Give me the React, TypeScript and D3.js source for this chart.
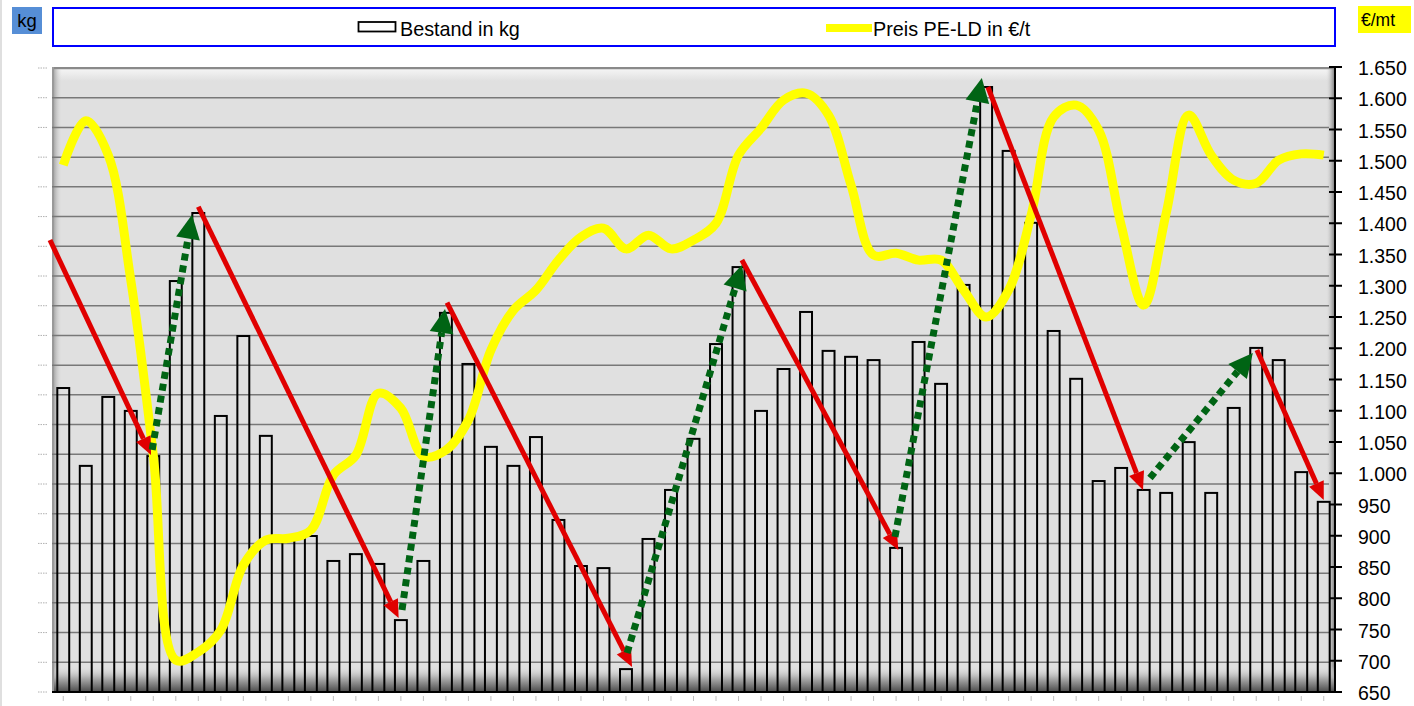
import React from 'react';
import * as d3 from 'd3';

// 57 Monate, Beschriftung im Original nicht lesbar
const categories = d3.range(57);

// Bestand (linke Achse, Beschriftung ausgeblendet)
const bestandKg = [
  1023, 761, 993, 946, 794, 1383, 1612, 929, 1198, 862,
  508, 525, 441, 464, 431, 242, 441, 1276, 1104, 825,
  761, 858, 579, 424, 417, 77, 515, 680, 852, 1171,
  1430, 946, 1087, 1279, 1148, 1128, 1117, 485, 1178, 1037,
  1370, 2036, 1821, 1579, 1215, 1054, 710, 754, 680, 670,
  841, 670, 956, 1158, 1117, 740, 640,
];

// Preis PE-LD in €/t (rechte Achse)
const preisPeLd = [
  1493, 1564, 1509, 1309, 1029, 701, 714, 749, 853, 893,
  896, 909, 997, 1029, 1128, 1104, 1027, 1037, 1085, 1197,
  1261, 1293, 1341, 1378, 1392, 1359, 1381, 1359, 1373, 1400,
  1509, 1552, 1597, 1608, 1573, 1461, 1349, 1352, 1341, 1341,
  1293, 1250, 1293, 1413, 1570, 1589, 1549, 1397, 1269, 1416,
  1573, 1509, 1469, 1464, 1501, 1511, 1509,
];

// Trendpfeile: [Kategorie-Index, kg] von -> bis
const downArrows = [
  { from: [-0.59, 1521], to: [3.9, 798] },
  { from: [6.0, 1633], to: [14.9, 249] },
  { from: [17.05, 1310], to: [25.27, 84] },
  { from: [30.15, 1454], to: [37.1, 478] },
  { from: [41.08, 2036], to: [47.97, 680] },
  { from: [53.03, 1151], to: [56.0, 646] },
];
const upArrows = [
  { from: [3.95, 815], to: [5.72, 1606] },
  { from: [15.05, 276], to: [16.96, 1289] },
  { from: [25.05, 131], to: [30.15, 1437] },
  { from: [36.95, 522], to: [40.81, 2066] },
  { from: [48.28, 720], to: [52.85, 1141] },
];

const rightTicks = d3.range(650, 1651, 50);

const W = 1414;
const H = 706;
const left = 52;
const right = 1335;
const top = 67;
const bottom = 692;
const FONT = 'Liberation Sans, Arial, sans-serif';

const de = d3.formatLocale({ decimal: ',', thousands: '.', grouping: [3], currency: ['', '€'] });
const fmt = de.format(',d');

function Arrow({ x1, y1, x2, y2, color, width, headLen, headW, dash }) {
  const dx = x2 - x1;
  const dy = y2 - y1;
  const len = Math.hypot(dx, dy);
  const ux = dx / len;
  const uy = dy / len;
  const bx = x2 - ux * headLen;
  const by = y2 - uy * headLen;
  const px = -uy * headW;
  const py = ux * headW;
  return (
    <g>
      <line x1={x1} y1={y1} x2={bx} y2={by} stroke={color} strokeWidth={width}
        strokeDasharray={dash} />
      <path d={`M${x2},${y2}L${bx + px},${by + py}L${bx - px},${by - py}Z`} fill={color} />
    </g>
  );
}

export default function App() {
  const x = d3.scaleBand<number>()
    .domain(categories)
    .range([left, right])
    .paddingInner(0.47)
    .paddingOuter(0.235);
  const cx = (i: number) => (x(i) as number) + x.bandwidth() / 2;
  const xIdx = d3.scaleLinear().domain([0, categories.length - 1]).range([cx(0), cx(categories.length - 1)]);
  const yKg = d3.scaleLinear().domain([0, 2100]).range([bottom, top + 1]);
  const yPreis = d3.scaleLinear().domain([650, 1650]).range([bottom, top]);

  const leftTicks = yKg.ticks(21);

  const line = d3.line<number>()
    .x((_, i) => cx(i))
    .y((d) => yPreis(d))
    .curve(d3.curveCatmullRom.alpha(0.5));

  return (
    <svg width={W} height={H} style={{ position: 'absolute', left: 0, top: 0, background: '#fff' }}
      fontFamily={FONT}>
      <defs>
        <linearGradient id="gTop" x1="0" y1="0" x2="0" y2="1">
          <stop offset="0" stopColor="#9a9a9a" />
          <stop offset="0.25" stopColor="#f2f2f2" />
          <stop offset="1" stopColor="#e0e0e0" />
        </linearGradient>
        <linearGradient id="gLeft" x1="0" y1="0" x2="1" y2="0">
          <stop offset="0" stopColor="#8c8c8c" />
          <stop offset="1" stopColor="#e0e0e0" stopOpacity="0" />
        </linearGradient>
        <linearGradient id="gRight" x1="0" y1="0" x2="1" y2="0">
          <stop offset="0" stopColor="#e0e0e0" stopOpacity="0" />
          <stop offset="1" stopColor="#707070" />
        </linearGradient>
        <linearGradient id="gBottom" x1="0" y1="0" x2="0" y2="1">
          <stop offset="0" stopColor="#e0e0e0" stopOpacity="0" />
          <stop offset="0.45" stopColor="#b0b0b0" />
          <stop offset="1" stopColor="#4a4a4a" />
        </linearGradient>
      </defs>

      <line x1={1} y1={0} x2={1} y2={H} stroke="#d4d4d4" strokeWidth={1.5} />

      {/* Einheiten */}
      <rect x={12} y={7} width={30} height={27} fill="#568ed6" />
      <text x={27} y={27} textAnchor="middle" fontSize={18.5} fill="#000">kg</text>
      <rect x={1358} y={6} width={53} height={27} fill="#ffff00" />
      <text x={1361} y={26} fontSize={17.5} fill="#000">€/mt</text>

      {/* Legende */}
      <rect x={53} y={8} width={1282} height={38} fill="#fff" stroke="#0000ff" strokeWidth={2} />
      <rect x={358.5} y={22} width={37} height={9.5} fill="#fff" stroke="#000" strokeWidth={1.8} />
      <text x={400} y={36} fontSize={19.8}>Bestand in kg</text>
      <line x1={826} x2={872} y1={28} y2={28} stroke="#ffff00" strokeWidth={8} />
      <text x={873} y={36} fontSize={19.8}>Preis PE-LD in €/t</text>

      {/* Zeichenfläche mit Schattierung */}
      <rect x={left} y={top} width={right - left} height={bottom - top} fill="#e0e0e0" />
      <rect x={left} y={top} width={right - left} height={14} fill="url(#gTop)" />
      <rect x={left} y={top} width={10} height={bottom - top} fill="url(#gLeft)" />
      <rect x={right - 9} y={top} width={9} height={bottom - top} fill="url(#gRight)" />
      <rect x={left} y={bottom - 26} width={right - left} height={26} fill="url(#gBottom)" />
      <line x1={left} x2={right} y1={top + 1} y2={top + 1} stroke="#8a8a8a" strokeWidth={2} />
      <line x1={left + 1} x2={left + 1} y1={top} y2={bottom} stroke="#9a9a9a" strokeWidth={2} />

      {/* Gitternetz */}
      {leftTicks.filter((t) => t > 0 && t < 2100).map((t) => (
        <line key={t} x1={left} x2={right - 6} y1={yKg(t)} y2={yKg(t)} stroke="#787878" strokeWidth={1.5} />
      ))}

      {/* linke Achse: nur Teilstriche */}
      {leftTicks.map((t) => (
        <line key={t} x1={38} x2={47} y1={yKg(t)} y2={yKg(t)} stroke="#b0b0b0" strokeWidth={1} strokeDasharray="1.5 1" />
      ))}

      {/* Säulen */}
      {categories.map((c) => (
        <rect key={c} x={x(c)} y={yKg(bestandKg[c])} width={x.bandwidth()}
          height={bottom - yKg(bestandKg[c])} fill="none" stroke="#000" strokeWidth={2} />
      ))}

      {/* Preislinie */}
      <path d={line(preisPeLd) || ''} fill="none" stroke="#ffff00" strokeWidth={9} strokeLinecap="butt" />

      {/* Pfeile */}
      {downArrows.map((a, i) => (
        <Arrow key={'d' + i} x1={xIdx(a.from[0])} y1={yKg(a.from[1])} x2={xIdx(a.to[0])} y2={yKg(a.to[1])}
          color="#e00000" width={5} headLen={18} headW={8} dash={undefined} />
      ))}
      {upArrows.map((a, i) => (
        <Arrow key={'u' + i} x1={xIdx(a.from[0])} y1={yKg(a.from[1])} x2={xIdx(a.to[0])} y2={yKg(a.to[1])}
          color="#006414" width={7} headLen={24} headW={12} dash="7 5" />
      ))}

      {/* Achsen */}
      <line x1={left} x2={right + 7} y1={bottom} y2={bottom} stroke="#000" strokeWidth={2} />
      <line x1={right} x2={right} y1={top} y2={bottom} stroke="#000" strokeWidth={2} />
      {rightTicks.map((t) => (
        <g key={t}>
          <line x1={right - 6} x2={right + 7} y1={yPreis(t)} y2={yPreis(t)} stroke="#000" strokeWidth={2} />
          <text x={1358} y={yPreis(t) + 1} dy="0.36em" fontSize={19.5} fill="#000">{fmt(t)}</text>
        </g>
      ))}

      {/* x-Achse: winzige Beschriftung */}
      {categories.map((c) => (
        <line key={c} x1={cx(c)} x2={cx(c)} y1={696} y2={701} stroke="#c0c0c0" strokeWidth={1} />
      ))}
    </svg>
  );
}
